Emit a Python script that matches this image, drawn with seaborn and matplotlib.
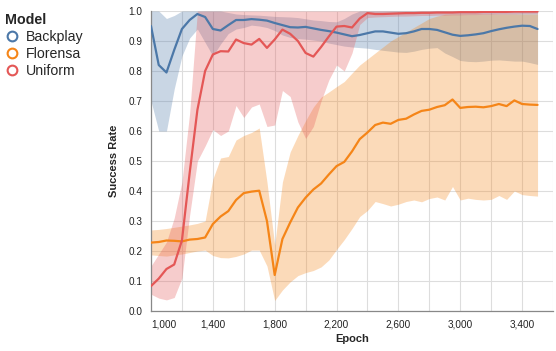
import matplotlib
matplotlib.use("Agg")
import matplotlib.pyplot as plt
from matplotlib.lines import Line2D
import seaborn as sns
import pandas as pd

epochs = list(range(1000, 3501, 50))

backplay_mean = [0.95, 0.82, 0.795, 0.87, 0.94, 0.97, 0.99, 0.98, 0.94, 0.935,
                 0.953, 0.97, 0.97, 0.973, 0.971, 0.968, 0.96, 0.953, 0.946, 0.945,
                 0.947, 0.942, 0.937, 0.933, 0.928, 0.922, 0.916, 0.92, 0.926, 0.932,
                 0.932, 0.928, 0.924, 0.926, 0.932, 0.94, 0.94, 0.937, 0.929, 0.921,
                 0.917, 0.919, 0.922, 0.926, 0.933, 0.939, 0.944, 0.948, 0.951, 0.95,
                 0.94]
backplay_low = [0.70, 0.60, 0.60, 0.74, 0.85, 0.91, 0.94, 0.895, 0.85, 0.89,
                0.925, 0.94, 0.945, 0.953, 0.95, 0.945, 0.935, 0.92, 0.912, 0.908,
                0.906, 0.903, 0.90, 0.893, 0.888, 0.883, 0.88, 0.878, 0.876, 0.872,
                0.869, 0.866, 0.863, 0.862, 0.866, 0.872, 0.876, 0.878, 0.86, 0.848,
                0.835, 0.832, 0.831, 0.833, 0.836, 0.837, 0.835, 0.833, 0.833, 0.828,
                0.822]
backplay_high = [1.0, 1.0, 0.975, 0.985, 1.0, 1.0, 1.0, 1.0, 1.0, 1.0,
                 0.995, 0.99, 0.988, 0.987, 0.986, 0.984, 0.982, 0.981, 0.98, 0.978,
                 0.974, 0.97, 0.968, 0.965, 0.964, 0.975, 0.99, 1.0, 1.0, 1.0,
                 1.0, 1.0, 1.0, 1.0, 1.0, 1.0, 1.0, 1.0, 1.0, 1.0,
                 1.0, 1.0, 1.0, 1.0, 1.0, 1.0, 1.0, 1.0, 1.0, 1.0,
                 1.0]

florensa_mean = [0.228, 0.23, 0.235, 0.234, 0.232, 0.238, 0.24, 0.245, 0.29, 0.315,
                 0.333, 0.37, 0.393, 0.398, 0.401, 0.30, 0.12, 0.24, 0.295, 0.345,
                 0.378, 0.405, 0.425, 0.455, 0.483, 0.497, 0.532, 0.573, 0.595, 0.62,
                 0.628, 0.624, 0.637, 0.641, 0.655, 0.667, 0.671, 0.68, 0.686, 0.705,
                 0.677, 0.68, 0.681, 0.679, 0.683, 0.69, 0.683, 0.702, 0.69, 0.688,
                 0.687]
florensa_low = [0.187, 0.185, 0.183, 0.187, 0.19, 0.195, 0.20, 0.203, 0.185, 0.178,
                0.177, 0.182, 0.19, 0.203, 0.203, 0.15, 0.035, 0.07, 0.097, 0.118,
                0.128, 0.135, 0.147, 0.17, 0.205, 0.238, 0.275, 0.315, 0.335, 0.365,
                0.358, 0.35, 0.356, 0.365, 0.37, 0.364, 0.375, 0.38, 0.37, 0.415,
                0.37, 0.376, 0.372, 0.37, 0.372, 0.385, 0.372, 0.40, 0.388, 0.385,
                0.383]
florensa_high = [0.27, 0.272, 0.275, 0.279, 0.283, 0.287, 0.292, 0.30, 0.44, 0.51,
                 0.515, 0.57, 0.585, 0.595, 0.61, 0.43, 0.22, 0.43, 0.53, 0.585,
                 0.635, 0.68, 0.713, 0.73, 0.748, 0.765, 0.793, 0.82, 0.84, 0.86,
                 0.88, 0.90, 0.915, 0.93, 0.945, 0.96, 0.975, 0.983, 0.989, 0.99,
                 0.99, 0.99, 0.99, 0.99, 0.99, 0.99, 0.99, 0.99, 0.99, 0.99,
                 0.99]

uniform_mean = [0.083, 0.108, 0.14, 0.155, 0.235, 0.46, 0.67, 0.80, 0.855, 0.866,
                0.865, 0.905, 0.893, 0.888, 0.907, 0.877, 0.905, 0.938, 0.924, 0.90,
                0.86, 0.848, 0.88, 0.915, 0.948, 0.95, 0.945, 0.975, 0.993, 0.99,
                0.99, 0.991, 0.992, 0.993, 0.993, 0.994, 0.994, 0.995, 0.995, 0.995,
                0.996, 0.996, 0.996, 0.997, 0.997, 0.997, 0.997, 0.998, 0.998, 0.998,
                0.998]
uniform_low = [0.056, 0.043, 0.037, 0.045, 0.11, 0.32, 0.50, 0.55, 0.605, 0.585,
               0.60, 0.685, 0.645, 0.68, 0.69, 0.615, 0.62, 0.735, 0.715, 0.63,
               0.575, 0.615, 0.70, 0.77, 0.82, 0.80, 0.86, 0.955, 0.978, 0.98,
               0.981, 0.982, 0.983, 0.983, 0.984, 0.985, 0.985, 0.986, 0.986, 0.987,
               0.987, 0.988, 0.988, 0.989, 0.989, 0.99, 0.99, 0.99, 0.991, 0.991,
               0.991]
uniform_high = [0.15, 0.19, 0.23, 0.31, 0.43, 0.66, 1.0, 1.0, 1.0, 1.0,
                1.0, 1.0, 1.0, 1.0, 1.0, 1.0, 1.0, 1.0, 1.0, 1.0,
                1.0, 1.0, 1.0, 1.0, 1.0, 1.0, 1.0, 1.0, 1.0, 1.0,
                1.0, 1.0, 1.0, 1.0, 1.0, 1.0, 1.0, 1.0, 1.0, 1.0,
                1.0, 1.0, 1.0, 1.0, 1.0, 1.0, 1.0, 1.0, 1.0, 1.0,
                1.0]

models = ["Backplay", "Florensa", "Uniform"]
colors = {"Backplay": "#4c78a8", "Florensa": "#f58518", "Uniform": "#e45756"}

frames = []
for name, mean, low, high in [
    ("Backplay", backplay_mean, backplay_low, backplay_high),
    ("Florensa", florensa_mean, florensa_low, florensa_high),
    ("Uniform", uniform_mean, uniform_low, uniform_high),
]:
    frames.append(pd.DataFrame({"Epoch": epochs, "Success Rate": mean,
                                "low": low, "high": high, "Model": name}))
df = pd.concat(frames, ignore_index=True)

sns.set_style("white")
plt.rcParams["font.family"] = ["Liberation Sans", "DejaVu Sans"]
plt.rcParams["lines.solid_joinstyle"] = "round"
plt.rcParams["lines.solid_capstyle"] = "round"

fig = plt.figure(figsize=(5.56, 3.51), dpi=100)
ax = fig.add_axes([151 / 556, 40 / 351, 402 / 556, 300 / 351])

# confidence bands first, lines on top
for name in models:
    sub = df[df["Model"] == name]
    ax.fill_between(sub["Epoch"], sub["low"], sub["high"],
                    color=colors[name], alpha=0.3, linewidth=0, zorder=1)

sns.lineplot(data=df, x="Epoch", y="Success Rate", hue="Model",
             hue_order=models, palette=colors, linewidth=1.6,
             legend=False, ax=ax, zorder=3)

ax.set_xlim(1000, 3600)
ax.set_ylim(0, 1)

xt = list(range(1000, 3601, 200))
ax.set_xticks(xt)
ax.set_xticklabels([f"{v:,}" if (v - 1000) % 400 == 0 else "" for v in xt])
ax.get_xticklabels()[0].set_horizontalalignment("left")
yt = [i / 10 for i in range(11)]
ax.set_yticks(yt)
ax.set_yticklabels([f"{v:.1f}" for v in yt])

ax.grid(True, color="#dddddd", linewidth=0.8, zorder=0)
ax.set_axisbelow(True)
for s in ["top", "right"]:
    ax.spines[s].set_visible(False)
for s in ["bottom", "left"]:
    ax.spines[s].set_color("#888888")
    ax.spines[s].set_linewidth(0.9)
ax.tick_params(axis="both", length=4, width=0.8, color="#888888",
               labelsize=7.2, labelcolor="#222222", pad=2)
ax.set_xlabel("Epoch", fontsize=8, fontweight="bold", labelpad=3)
ax.set_ylabel("Success Rate", fontsize=8, fontweight="bold", labelpad=7)

handles = [Line2D([], [], marker="o", linestyle="none", markerfacecolor="none",
                  markeredgecolor=colors[m], markersize=7, markeredgewidth=1.5)
           for m in models]
leg = fig.legend(handles, models, title="Model", loc="upper left",
                 bbox_to_anchor=(5 / 556, 1 - 13 / 351), frameon=False,
                 fontsize=10.2, title_fontsize=10.3, handlelength=1.0,
                 handletextpad=0.45, labelspacing=0.22, borderaxespad=0,
                 borderpad=0)
leg.get_title().set_fontweight("bold")
leg._legend_box.align = "left"

fig.savefig("out.png", dpi=100)
